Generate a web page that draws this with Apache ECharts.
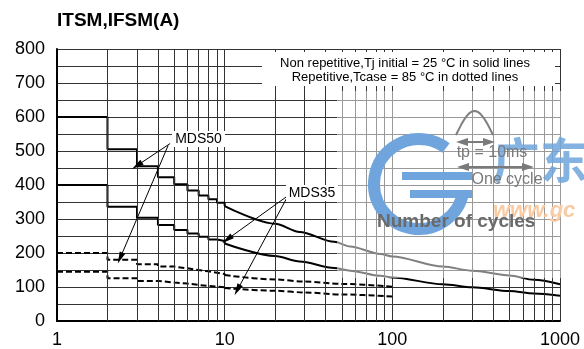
<!DOCTYPE html>
<html><head><meta charset="utf-8">
<script src="https://cdn.jsdelivr.net/npm/echarts@6/dist/echarts.min.js"></script>
<style>html,body{margin:0;padding:0;background:#fff}#c{width:584px;height:349px}</style>
</head><body><div id="c"></div>
<script>
// ---- data ----
const stepCycles = [1, 2, 3, 4, 5, 6, 7, 8, 9, 10];
const mds50Step = [600, 505, 455, 423, 402, 384, 369, 358, 348, 338];
const mds35Step = [400, 336, 304, 282, 268, 257, 248, 240, 235, 228];
const curveCycles = [10, 20, 28, 45, 56, 85, 100, 200, 300, 500, 700, 1000];
const mds50Curve = [338, 286, 262, 233, 219, 197, 190, 160, 148, 134, 121, 108];
const mds35Curve = [228, 191, 175, 156, 148, 133, 128, 108, 99, 88, 81, 74];
const mds50RepStep = [200, 180, 167, 160, 155, 150, 146, 142, 138, 135];
const mds35RepStep = [145, 126, 118, 113, 110, 106, 103, 101, 99, 97];
const repCycles = [10, 20, 30, 50, 100];
const mds50RepCurve = [135, 122, 116, 109, 101];
const mds35RepCurve = [97, 89, 84, 78, 72];
const yTickLabels = [0, 100, 200, 300, 400, 500, 600, 700, 800];
const xTickLabels = [1, 10, 100, 1000];
const minorCycles = [2,3,4,5,6,7,8,9,20,30,40,50,60,70,80,90,200,300,400,500,600,700,800,900];
// arrows: [fromCycles, fromA, toCycles, toA]
const arrowsMDS50 = [[4.73, 522, 3.0, 457], [4.6, 516, 2.38, 185]];
const arrowsMDS35 = [[23.6, 367, 10.35, 240], [23.6, 364, 11.9, 91]];

const zip = (xs, ys) => xs.map((x, i) => [x, ys[i]]);
const FONT = '"Liberation Sans", Arial, Helvetica, sans-serif';

const chart = echarts.init(document.getElementById('c'), null, {renderer: 'canvas'});

const solid = {color: '#000', width: 2};
const dashed = {color: '#000', width: 2, type: [6, 3]};

function pulsePoints() {
  const pts = [];
  for (let i = 0; i <= 20; i++) {
    const t = i / 20;
    pts.push([456 + t * 37, 135 - Math.sin(Math.PI * t) * 24]);
  }
  return pts;
}
function head(x, y, dir) { // dir: -1 left, 1 right
  return {type: 'polygon', z: 40, shape: {points: [[x, y], [x - dir * 12, y - 4], [x - dir * 12, y + 4]]}, style: {fill: '#7a7a7a'}};
}

const option = {
  animation: false,
  backgroundColor: '#fff',
  grid: {left: 57, right: 24, top: 49, bottom: 27, containLabel: false},
  xAxis: {
    type: 'log', logBase: 10, min: 1, max: 1000,
    axisLine: {show: true, lineStyle: {color: '#000', width: 2}},
    axisTick: {show: false},
    axisLabel: {fontSize: 18, color: '#000', fontFamily: FONT, margin: 10,
      formatter: v => xTickLabels.includes(Math.round(v)) ? String(Math.round(v)) : ''},
    splitLine: {show: true, lineStyle: {color: '#333', width: 1}}
  },
  yAxis: {
    type: 'value', min: 0, max: 800, interval: 50,
    axisLine: {show: true, lineStyle: {color: '#000', width: 2}},
    axisTick: {show: false},
    axisLabel: {fontSize: 18, color: '#000', fontFamily: FONT, margin: 12,
      formatter: v => yTickLabels.includes(v) ? String(v) : ''},
    splitLine: {show: true, lineStyle: {color: '#333', width: 1}}
  },
  series: [
    {type: 'line', data: [[1, 0]], symbol: 'none', lineStyle: {opacity: 0}, z: 1, silent: true,
      markLine: {silent: true, symbol: 'none', label: {show: false}, animation: false,
        lineStyle: {color: '#333', width: 1, type: 'solid'},
        data: minorCycles.map(v => ({xAxis: v}))}},
    {type: 'line', data: zip(stepCycles, mds50Step), step: 'end', symbol: 'none', lineStyle: solid, z: 3},
    {type: 'line', data: zip(curveCycles, mds50Curve), smooth: 0.3, smoothMonotone: 'x', symbol: 'none', lineStyle: solid, z: 3},
    {type: 'line', data: zip(stepCycles, mds35Step), step: 'end', symbol: 'none', lineStyle: solid, z: 3},
    {type: 'line', data: zip(curveCycles, mds35Curve), smooth: 0.3, smoothMonotone: 'x', symbol: 'none', lineStyle: solid, z: 3},
    {type: 'line', data: zip(stepCycles, mds50RepStep), step: 'end', symbol: 'none', lineStyle: dashed, z: 3},
    {type: 'line', data: zip(repCycles, mds50RepCurve), smooth: 0.3, smoothMonotone: 'x', symbol: 'none', lineStyle: dashed, z: 3},
    {type: 'line', data: zip(stepCycles, mds35RepStep), step: 'end', symbol: 'none', lineStyle: dashed, z: 3},
    {type: 'line', data: zip(repCycles, mds35RepCurve), smooth: 0.3, smoothMonotone: 'x', symbol: 'none', lineStyle: dashed, z: 3},
    {type: 'line', data: [[1, 0]], symbol: 'none', lineStyle: {opacity: 0}, z: 5, silent: true,
      markLine: {silent: true, symbol: ['none', 'triangle'], symbolSize: [6, 12], label: {show: false}, animation: false,
        lineStyle: {color: '#000', width: 1, type: 'solid'},
        data: arrowsMDS50.concat(arrowsMDS35).map(a => [{coord: [a[0], a[1]]}, {coord: [a[2], a[3]]}])}}
  ],
  graphic: [
    {type: 'text', x: 57, y: 21, z: 10, style: {text: 'ITSM,IFSM(A)', fontSize: 19, fontWeight: 'bold', fontFamily: FONT, fill: '#000', verticalAlign: 'middle'}},
    {type: 'rect', z: 10, shape: {x: 262, y: 52, width: 293, height: 34}, style: {fill: '#fff'}},
    {type: 'text', x: 405, y: 63, z: 11, style: {text: 'Non repetitive,Tj initial = 25 °C in solid lines', fontSize: 13, fontFamily: FONT, fill: '#000', align: 'center', verticalAlign: 'middle'}},
    {type: 'text', x: 405, y: 77, z: 11, style: {text: 'Repetitive,Tcase = 85 °C in dotted lines', fontSize: 13, fontFamily: FONT, fill: '#000', align: 'center', verticalAlign: 'middle'}},
    {type: 'rect', z: 10, shape: {x: 172, y: 131, width: 53, height: 16}, style: {fill: '#fff'}},
    {type: 'text', x: 198.5, y: 139, z: 11, style: {text: 'MDS50', fontSize: 14, fontFamily: FONT, fill: '#000', align: 'center', verticalAlign: 'middle'}},
    {type: 'rect', z: 10, shape: {x: 286, y: 185, width: 52, height: 16}, style: {fill: '#fff'}},
    {type: 'text', x: 312, y: 193, z: 11, style: {text: 'MDS35', fontSize: 14, fontFamily: FONT, fill: '#000', align: 'center', verticalAlign: 'middle'}},
    // watermark overlay
    {type: 'rect', z: 20, shape: {x: 337, y: 91, width: 247, height: 187}, style: {fill: 'rgba(255,255,255,0.5)'}},
    {type: 'arc', z: 30, shape: {cx: 419, cy: 184, r: 45, startAngle: 10 * Math.PI / 180, endAngle: 307 * Math.PI / 180, clockwise: true}, style: {stroke: '#6fa4dc', lineWidth: 12, fill: null}},
    {type: 'rect', z: 30, shape: {x: 402, y: 172, width: 70, height: 8}, style: {fill: '#6fa4dc'}},
    {type: 'rect', z: 30, shape: {x: 410, y: 190, width: 62, height: 8}, style: {fill: '#6fa4dc'}},
    {type: 'text', x: 492, y: 136, z: 30, style: {text: '广东', fontSize: 48, fontWeight: 'bold', fontFamily: '"Noto Sans CJK SC", sans-serif', fill: 'rgba(111,164,220,0.85)', verticalAlign: 'top'}},
    {type: 'text', x: 493, y: 211, z: 30, style: {text: 'www.gc', fontSize: 22, fontWeight: 'bold', fontStyle: 'italic', fontFamily: FONT, fill: '#f9cba4', verticalAlign: 'middle'}},
    {type: 'polyline', z: 40, shape: {points: pulsePoints()}, style: {stroke: '#808080', lineWidth: 2, fill: null}},
    {type: 'line', z: 40, shape: {x1: 460, y1: 142, x2: 491, y2: 142}, style: {stroke: '#7a7a7a', lineWidth: 2}},
    head(456, 142, -1), head(495, 142, 1),
    {type: 'line', z: 40, shape: {x1: 461, y1: 167, x2: 530, y2: 167}, style: {stroke: '#7a7a7a', lineWidth: 2}},
    head(457, 167, -1), head(534, 167, 1),
    {type: 'text', x: 492, y: 153, z: 40, style: {text: 'tp = 10ms', fontSize: 16, fontFamily: FONT, fill: '#7a7a7a', align: 'center', verticalAlign: 'middle'}},
    {type: 'text', x: 507, y: 180, z: 40, style: {text: 'One cycle', fontSize: 16, fontFamily: FONT, fill: '#7a7a7a', align: 'center', verticalAlign: 'middle'}},
    {type: 'text', x: 377, y: 222, z: 40, style: {text: 'Number of cycles', fontSize: 19, fontWeight: 'bold', fontFamily: FONT, fill: '#6a6a6a', verticalAlign: 'middle'}}
  ]
};
chart.setOption(option);
</script>
</body></html>
